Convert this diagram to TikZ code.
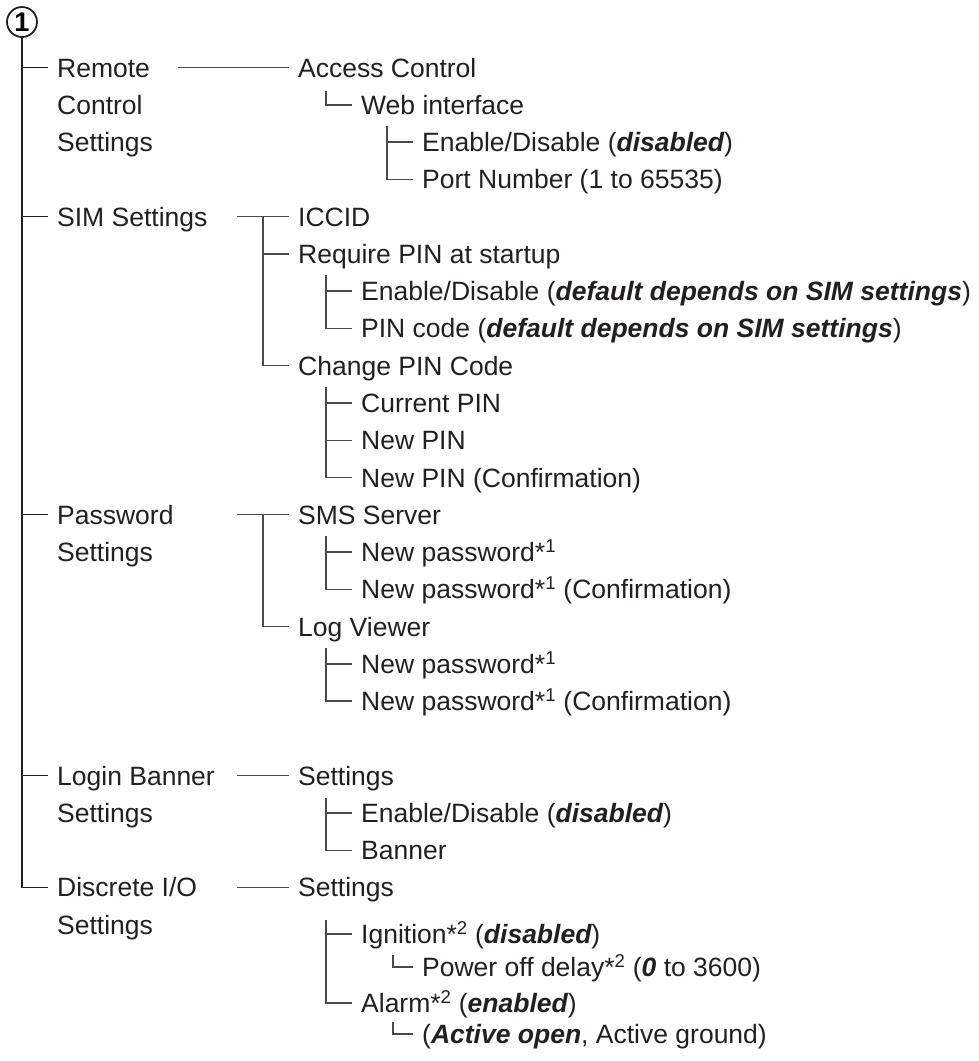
\documentclass[tikz,border=0pt]{standalone}
\usepackage{fontspec}
\setmainfont{Liberation Sans}
\definecolor{txt}{HTML}{231F20}
\definecolor{lin}{HTML}{4A4A4A}
\definecolor{mainlin}{HTML}{231F20}
\newcommand\bitxt[1]{{\bfseries\itshape #1}}
\begin{document}
\begin{tikzpicture}[x=1pt,y=-1pt,
  lbl/.style={anchor=west, inner xsep=9pt, inner ysep=0pt, text height=19pt, text depth=0pt,
              font=\fontsize{26.5}{30}\selectfont, text=txt},
  ln/.style={draw=lin, line width=1.4pt},
  mln/.style={draw=mainlin, line width=1.4pt}]
\useasboundingbox (0,0) rectangle (979,1061);

% circled number
\node[circle, draw=mainlin, line width=1.8pt, minimum size=30pt, inner sep=0pt,
      font=\bfseries\fontsize{27}{27}\selectfont, text=black] (c1) at (22,22) {1};

% level 0
\node[lbl] (rc)    at (48,67.5)  {Remote};
\node[lbl] (rc2)   at (48,104.8) {Control};
\node[lbl] (rc3)   at (48,142.0) {Settings};
\node[lbl] (sim)   at (48,216.6) {SIM Settings};
\node[lbl] (pw)    at (48,514.7) {Password};
\node[lbl] (pw2)   at (48,552.0) {Settings};
\node[lbl] (lb)    at (48,775.6) {Login Banner};
\node[lbl] (lb2)   at (48,812.9) {Settings};
\node[lbl] (disc)  at (48,887.4) {Discrete I/O};
\node[lbl] (disc2) at (48,924.7) {Settings};

% level 1
\node[lbl] (ac)    at (289,67.5)  {Access Control};
\node[lbl] (iccid) at (289,216.6) {ICCID};
\node[lbl] (req)   at (289,253.9) {Require PIN at startup};
\node[lbl] (chg)   at (289,365.7) {Change PIN Code};
\node[lbl] (sms)   at (289,514.7) {SMS Server};
\node[lbl] (log)   at (289,626.6) {Log Viewer};
\node[lbl] (lbs)   at (289,775.6) {Settings};
\node[lbl] (dss)   at (289,887.4) {Settings};

% level 2
\node[lbl] (web)   at (352,104.8) {Web interface};
\node[lbl] (req1)  at (352,291.1) {Enable/Disable (\bitxt{default depends on SIM settings})};
\node[lbl] (req2)  at (352,328.4) {PIN code (\bitxt{default depends on SIM settings})};
\node[lbl] (chg1)  at (352,402.9) {Current PIN};
\node[lbl] (chg2)  at (352,440.2) {New PIN};
\node[lbl] (chg3)  at (352,477.5) {New PIN (Confirmation)};
\node[lbl] (sms1)  at (352,552.0) {New password*\textsuperscript{1}};
\node[lbl] (sms2)  at (352,589.3) {New password*\textsuperscript{1} (Confirmation)};
\node[lbl] (log1)  at (352,663.8) {New password*\textsuperscript{1}};
\node[lbl] (log2)  at (352,701.1) {New password*\textsuperscript{1} (Confirmation)};
\node[lbl] (lbs1)  at (352,812.9) {Enable/Disable (\bitxt{disabled})};
\node[lbl] (lbs2)  at (352,850.2) {Banner};
\node[lbl] (ign)   at (352,934)   {Ignition*\textsuperscript{2} (\bitxt{disabled})};
\node[lbl] (alarm) at (352,1003)  {Alarm*\textsuperscript{2} (\bitxt{enabled})};

% level 3
\node[lbl] (web1)  at (413,142.0) {Enable/Disable (\bitxt{disabled})};
\node[lbl] (web2)  at (413,179.3) {Port Number (1 to 65535)};
\node[lbl] (pod)   at (413,967)   {Power off delay*\textsuperscript{2} (\bitxt{0} to 3600)};
\node[lbl] (act)   at (413,1034)  {(\bitxt{Active open}, Active ground)};

% main trunk
\draw[mln] (c1.south) -- (c1.south |- disc.west) -- (disc.west);
\foreach \n in {rc,sim,pw,lb} \draw[mln] (c1.south |- \n.west) -- (\n.west);

% junction coordinates
\coordinate (rcj)  at (178,67.5);
\coordinate (simj) at (237,216.6);
\coordinate (simv) at (263,216.6);
\coordinate (pwj)  at (237,514.7);
\coordinate (pwv)  at (263,514.7);
\coordinate (lbj)  at (237,775.6);
\coordinate (dj)   at (237,887.4);
\coordinate (acv)  at (326,90.5);
\coordinate (webv) at (387,126);
\coordinate (reqv) at (326,275);
\coordinate (chgv) at (326,387);
\coordinate (smsv) at (326,536);
\coordinate (logv) at (326,648);
\coordinate (lbsv) at (326,798);
\coordinate (dssv) at (326,920);
\coordinate (ignv) at (393,955);
\coordinate (alv)  at (393,1022);

% level 1 connectors
\draw[ln] (rcj) -- (ac.west);
\draw[ln] (simj) -- (iccid.west);
\draw[ln] (simv) |- (req.west);
\draw[ln] (simv) |- (chg.west);
\draw[ln] (pwj) -- (sms.west);
\draw[ln] (pwv) |- (log.west);
\draw[ln] (lbj) -- (lbs.west);
\draw[ln] (dj) -- (dss.west);

% level 2 connectors
\draw[ln] (acv) |- (web.west);
\foreach \n in {req1,req2} \draw[ln] (reqv) |- (\n.west);
\foreach \n in {chg1,chg2,chg3} \draw[ln] (chgv) |- (\n.west);
\foreach \n in {sms1,sms2} \draw[ln] (smsv) |- (\n.west);
\foreach \n in {log1,log2} \draw[ln] (logv) |- (\n.west);
\foreach \n in {lbs1,lbs2} \draw[ln] (lbsv) |- (\n.west);
\foreach \n in {ign,alarm} \draw[ln] (dssv) |- (\n.west);

% level 3 connectors
\foreach \n in {web1,web2} \draw[ln] (webv) |- (\n.west);
\draw[ln] (ignv) |- (pod.west);
\draw[ln] (alv) |- (act.west);
\end{tikzpicture}
\end{document}
